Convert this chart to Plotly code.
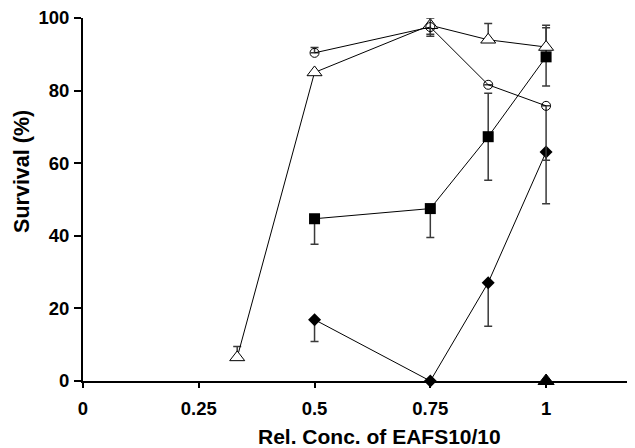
import plotly.graph_objects as go

# Data
tri_open_x = [0.333, 0.5, 0.75, 0.875, 1.0]
tri_open_y = [6.5, 85.0, 98.0, 94.0, 92.0]
tri_open_err_up = [3.0, 0.0, 2.5, 4.5, 6.0]
tri_open_err_dn = [0.0, 0.0, 2.5, 0.0, 0.0]

circ_x = [0.5, 0.75, 0.875, 1.0]
circ_y = [90.4, 97.5, 81.6, 75.8]
circ_err_up = [1.5, 2.5, 0.0, 0.0]
circ_err_dn = [0.0, 2.5, 0.0, 15.0]

sq_x = [0.5, 0.75, 0.875, 1.0]
sq_y = [44.7, 47.5, 67.3, 89.3]
sq_err_up = [0.0, 0.0, 12.0, 8.0]
sq_err_dn = [7.0, 8.0, 12.0, 8.0]

dia_x = [0.5, 0.75, 0.875, 1.0]
dia_y = [16.9, 0.0, 27.1, 63.1]
dia_err_up = [0.0, 0.0, 0.0, 0.0]
dia_err_dn = [6.0, 0.0, 12.0, 14.3]

tri_fill_x = [1.0]
tri_fill_y = [0.0]

x_ticks = [0, 0.25, 0.5, 0.75, 1]
x_ticktext = ["0", "0.25", "0.5", "0.75", "1"]
y_ticks = [0, 20, 40, 60, 80, 100]

x_title = "Rel. Conc. of EAFS10/10"
y_title = "Survival (%)"

FONT = "Liberation Sans, Arial, Helvetica, sans-serif"


def err(up, dn):
    return dict(type="data", symmetric=False, array=up, arrayminus=dn,
                color="#3a3a3a", thickness=1.5, width=4)


fig = go.Figure()

fig.add_trace(go.Scatter(
    x=sq_x, y=sq_y, mode="lines+markers",
    line=dict(color="black", width=1),
    marker=dict(symbol="square", size=11, color="black"),
    error_y=err(sq_err_up, sq_err_dn), cliponaxis=False))

fig.add_trace(go.Scatter(
    x=dia_x, y=dia_y, mode="lines+markers",
    line=dict(color="black", width=1),
    marker=dict(symbol="diamond", size=10, color="black"),
    error_y=err(dia_err_up, dia_err_dn), cliponaxis=False))

fig.add_trace(go.Scatter(
    x=tri_open_x, y=tri_open_y, mode="lines+markers",
    line=dict(color="black", width=1),
    marker=dict(symbol="triangle-up", size=13, color="white",
                line=dict(color="black", width=1)),
    error_y=err(tri_open_err_up, tri_open_err_dn), cliponaxis=False))

fig.add_trace(go.Scatter(
    x=circ_x, y=circ_y, mode="lines+markers",
    line=dict(color="black", width=1),
    marker=dict(symbol="circle-open", size=9, color="black", line=dict(width=1)),
    error_y=err(circ_err_up, circ_err_dn), cliponaxis=False))

fig.add_trace(go.Scatter(
    x=tri_fill_x, y=tri_fill_y, mode="markers",
    marker=dict(symbol="triangle-up", size=14, color="black",
                line=dict(color="black", width=1)),
    cliponaxis=False))

# page body has an 8px margin, so the figure is shrunk by that amount
fig.update_layout(
    width=627, height=440,
    margin=dict(l=75, r=0, t=10, b=66.5),
    paper_bgcolor="white", plot_bgcolor="white",
    showlegend=False,
    font=dict(family=FONT, color="black"),
    xaxis=dict(range=[0, 1.192], tickvals=x_ticks, ticktext=x_ticktext,
               showgrid=False, zeroline=False, showline=True,
               linecolor="black", linewidth=2, ticks="outside",
               ticklen=5, tickwidth=1.5, tickcolor="black",
               ticklabelstandoff=5, ticklabeloverflow="allow",
               tickfont=dict(family=FONT, size=18.5, weight="bold", color="black"),
               layer="below traces", automargin=False),
    yaxis=dict(range=[0, 100], tickvals=y_ticks,
               showgrid=False, zeroline=False, showline=True,
               linecolor="black", linewidth=2, ticks="outside",
               ticklen=7, tickwidth=1.5, tickcolor="black",
               ticklabelstandoff=1, ticklabeloverflow="allow",
               tickfont=dict(family=FONT, size=18.5, weight="bold", color="black"),
               layer="below traces", automargin=False),
    annotations=[
        dict(text=x_title, xref="paper", yref="paper", x=0.537, y=-0.153,
             showarrow=False, xanchor="center", yanchor="middle",
             font=dict(family=FONT, size=21, weight="bold", color="black")),
        dict(text=y_title, xref="paper", yref="paper", x=-0.1105, y=0.576,
             showarrow=False, xanchor="center", yanchor="middle", textangle=-90,
             font=dict(family=FONT, size=21.5, weight="bold", color="black")),
    ],
)

fig.write_html("out.html")
